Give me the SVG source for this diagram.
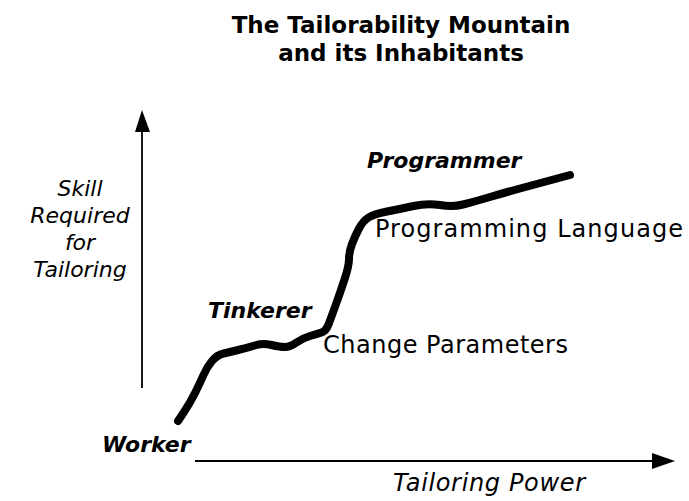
<svg xmlns="http://www.w3.org/2000/svg" width="689" height="501" viewBox="0 0 689 501">
<style>
.title{font-family:"DejaVu Sans","Liberation Sans",sans-serif;font-weight:bold;font-size:23px;fill:#000;text-anchor:middle}
.role{font-family:"DejaVu Sans","Liberation Sans",sans-serif;font-weight:bold;font-style:italic;font-size:22px;fill:#000}
.lvl{font-family:"DejaVu Sans","Liberation Sans",sans-serif;font-size:24px;fill:#000}
.ax{font-family:"DejaVu Sans","Liberation Sans",sans-serif;font-style:italic;font-size:22px;fill:#000}
.axis{stroke:#000;stroke-width:1.8;fill:none}
.curve{stroke:#000;stroke-width:8;fill:none;stroke-linecap:round;stroke-linejoin:round}
</style>
<rect width="689" height="501" fill="#fff"/>
<g id="title">
<text class="title" x="401" y="33">The Tailorability Mountain</text>
<text class="title" x="401" y="61">and its Inhabitants</text>
</g>
<g id="connectors">
<line class="axis" x1="142" y1="388" x2="142" y2="130"/>
<polygon points="142,110 135,132 150,132" fill="#000"/>
<line class="axis" x1="195" y1="461" x2="654" y2="461"/>
<polygon points="675,461 652,453 652,469" fill="#000"/>
<path class="curve" d="M178,421 L184,412 Q190,403 195,393 Q200,383 203.5,375 Q207,367 212,361 Q217,355 223.5,353.5 Q230,352 240,349.5 Q250,347 256.5,345 Q263,343 271.5,345 Q280,347 285,347 Q290,347 296.5,342.5 Q303,338 310,336 Q317,334 321.5,332.5 Q326,331 328.5,324.5 Q331,318 335.5,305.5 Q340,293 344.5,279.5 Q349,266 349,259 Q349,252 352,244 Q355,236 359,228.5 Q363,221 368.5,217.5 Q374,214 387,211.5 Q400,209 413.5,206 Q427,203 440,205 Q453,207 463,204.5 Q473,202 490,197 Q507,192 520,188.5 Q533,185 551.5,180 L570,175"/>
</g>
<g id="y-label">
<text class="ax" x="80" y="196" text-anchor="middle">Skill</text>
<text class="ax" x="80" y="223" text-anchor="middle">Required</text>
<text class="ax" x="80" y="250" text-anchor="middle">for</text>
<text class="ax" x="80" y="277" text-anchor="middle">Tailoring</text>
</g>
<g id="x-label">
<text class="ax" x="393" y="491" style="font-size:24px" textLength="192" lengthAdjust="spacing">Tailoring Power</text>
</g>
<g id="worker"><text class="role" x="102" y="452">Worker</text></g>
<g id="tinkerer"><text class="role" x="208" y="318">Tinkerer</text></g>
<g id="programmer"><text class="role" x="367" y="168">Programmer</text></g>
<g id="change-parameters"><text class="lvl" x="323" y="353" textLength="245" lengthAdjust="spacing">Change Parameters</text></g>
<g id="programming-language"><text class="lvl" x="375" y="237" textLength="308" lengthAdjust="spacing">Programming Language</text></g>
</svg>
